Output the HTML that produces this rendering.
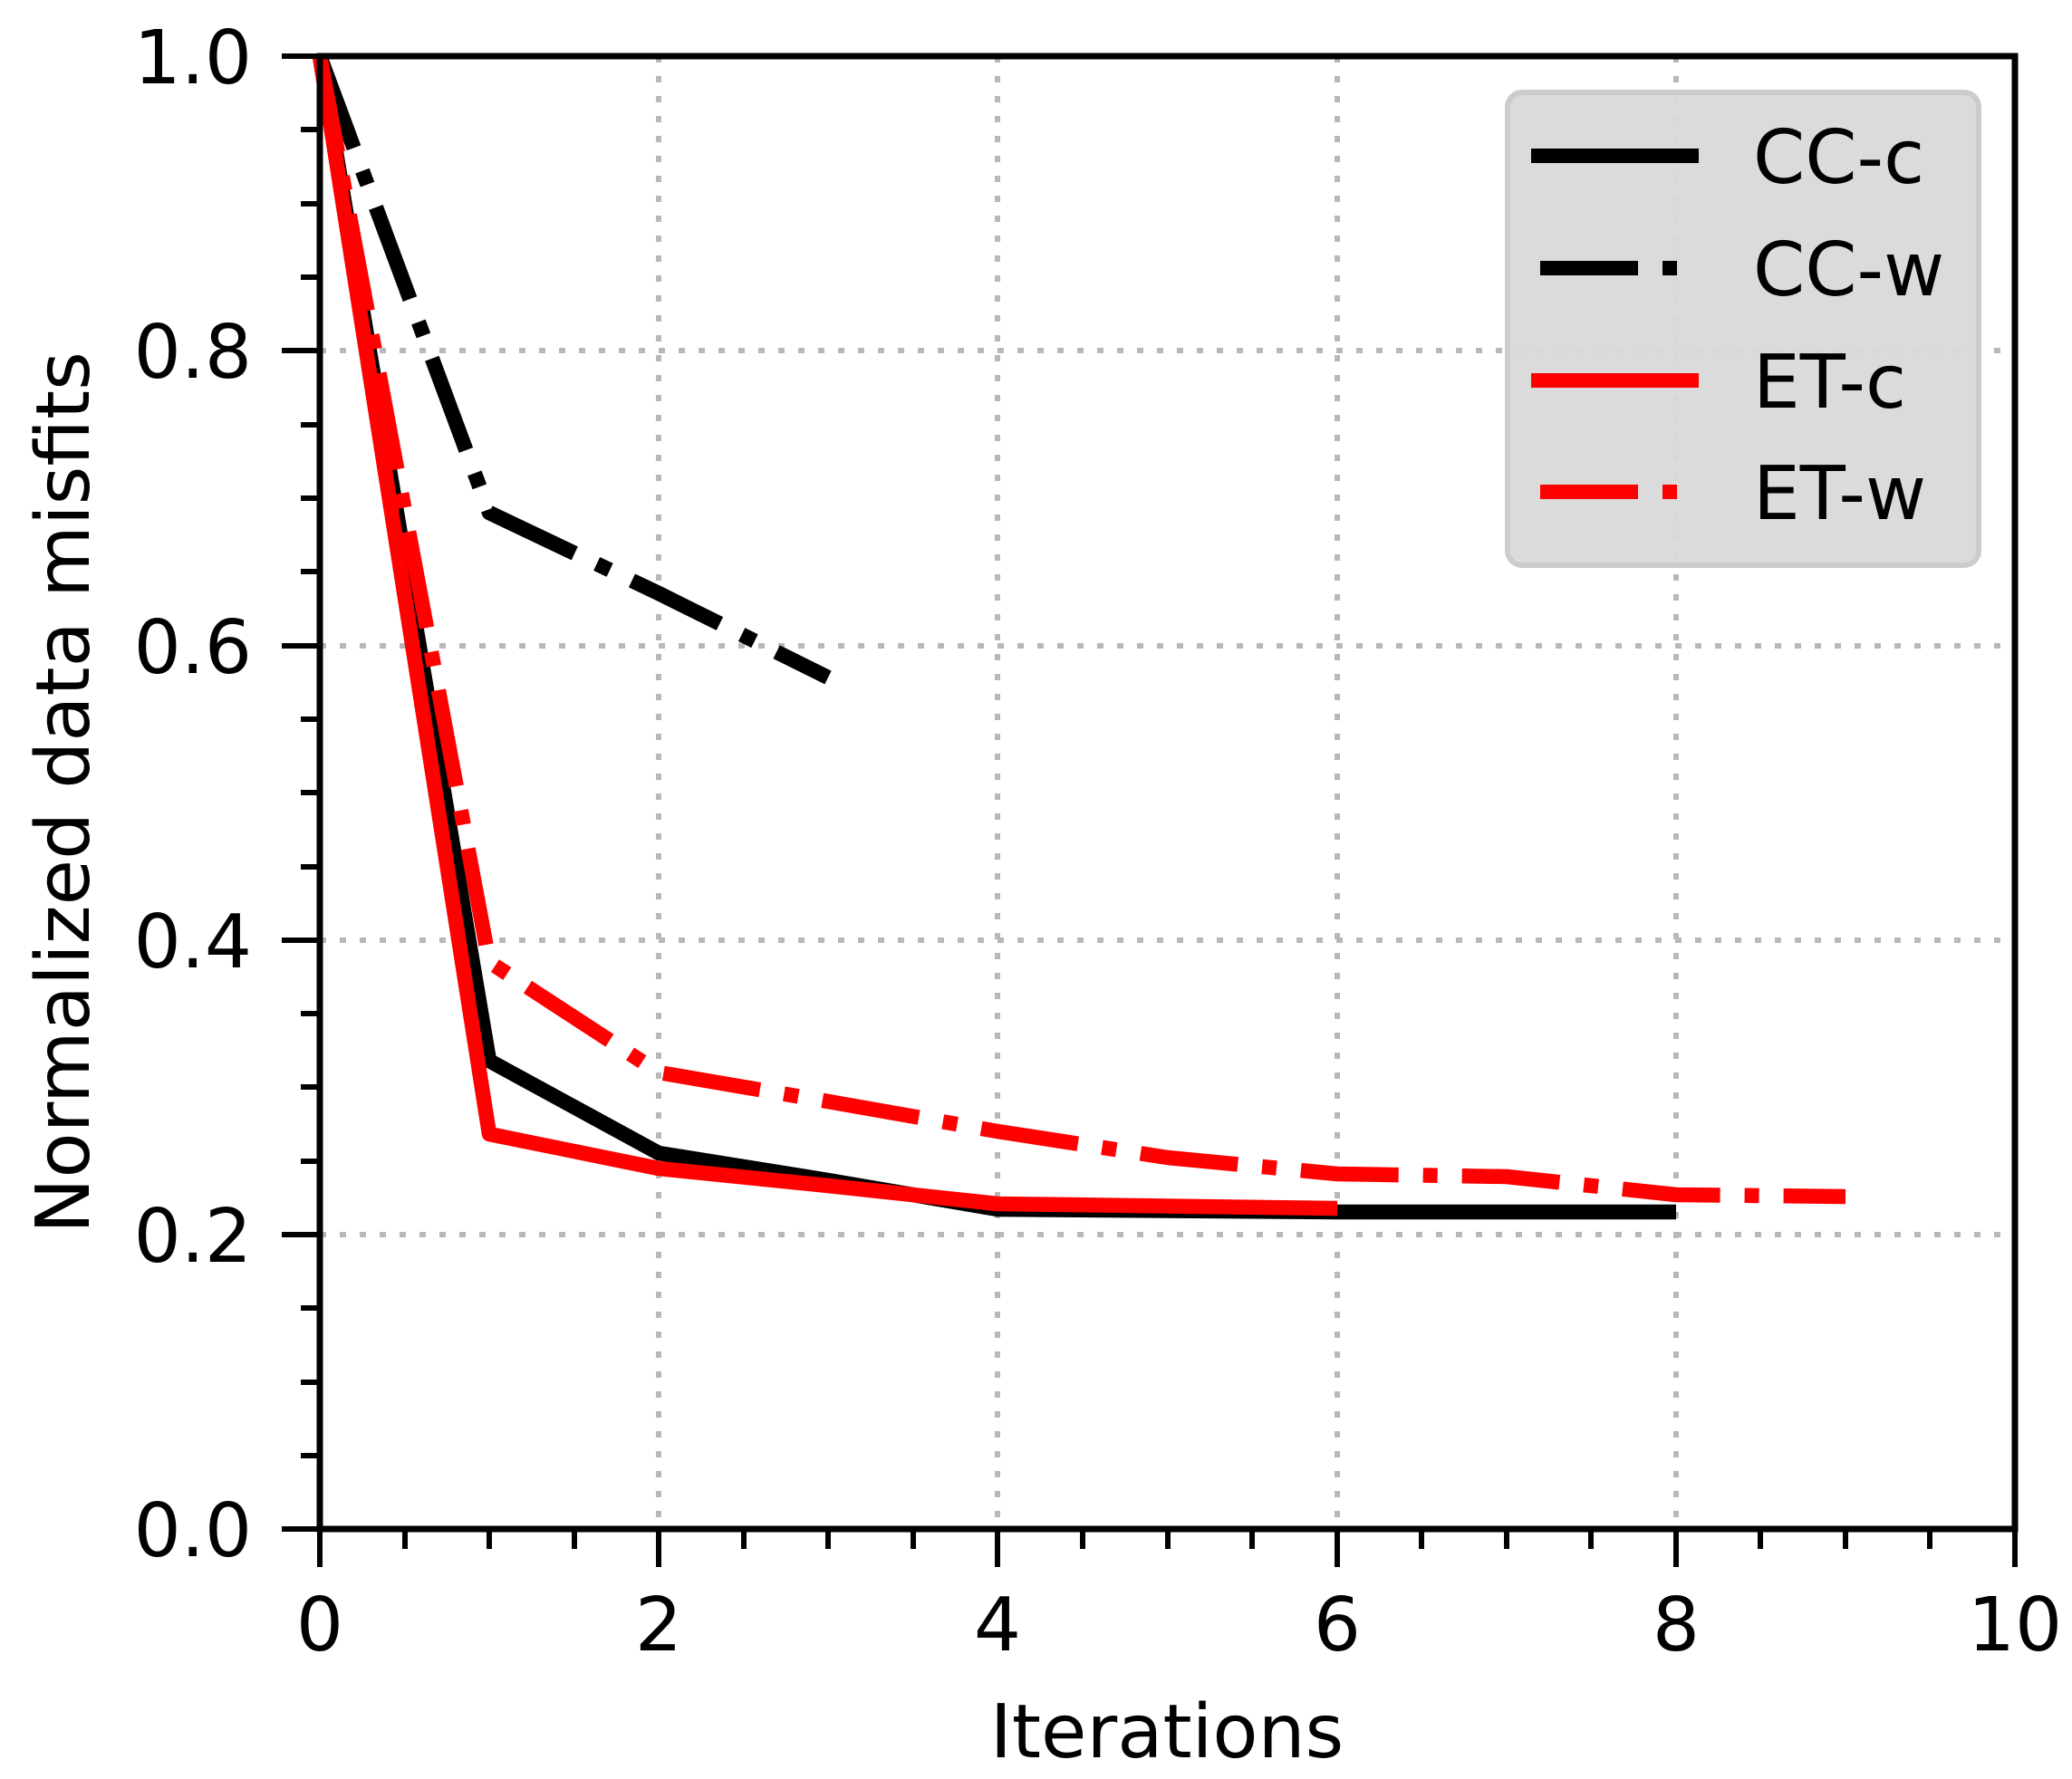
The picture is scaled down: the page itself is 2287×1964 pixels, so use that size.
<!DOCTYPE html>
<html><head><meta charset="utf-8"><style>html,body{margin:0;padding:0;background:#fff}svg{display:block}</style></head>
<body>
<svg width="2287" height="1964" viewBox="0 0 2287 1964" xmlns="http://www.w3.org/2000/svg" font-family="'DejaVu Sans','Liberation Sans',sans-serif">
<rect width="2287" height="1964" fill="#fff"/>
<g stroke="#b8b8b8" stroke-width="6" stroke-dasharray="7 15">
<line x1="353" y1="1363" x2="2224" y2="1363"/>
<line x1="353" y1="1038" x2="2224" y2="1038"/>
<line x1="353" y1="713" x2="2224" y2="713"/>
<line x1="353" y1="387" x2="2224" y2="387"/>
<line x1="727" y1="62" x2="727" y2="1688"/>
<line x1="1101" y1="62" x2="1101" y2="1688"/>
<line x1="1476" y1="62" x2="1476" y2="1688"/>
<line x1="1850" y1="62" x2="1850" y2="1688"/>
</g>
<g fill="none" stroke-width="16.5" stroke-linejoin="round">
<polyline stroke="#000" points="353,62 540,1171 727,1273 914,1303 1101,1335 1476,1338 1850,1338"/>
<polyline stroke="#000" stroke-dasharray="108 27 16 27" points="353,62 540,566 727,655 914,748"/>
<polyline stroke="#f00" points="353,62 540,1252 727,1290 914,1309 1101,1329 1476,1334"/>
<polyline stroke="#f00" stroke-dasharray="108 27 16 27" points="353,62 540,1062 727,1184 914,1216 1101,1249 1289,1278 1476,1296 1663,1299 1850,1319 2037,1321"/>
</g>
<g stroke="#000" stroke-width="6">
<line x1="311" y1="1688" x2="353" y2="1688"/><line x1="311" y1="1363" x2="353" y2="1363"/><line x1="311" y1="1038" x2="353" y2="1038"/><line x1="311" y1="713" x2="353" y2="713"/><line x1="311" y1="387" x2="353" y2="387"/><line x1="311" y1="62" x2="353" y2="62"/>
<line x1="332" y1="1607" x2="353" y2="1607"/><line x1="332" y1="1526" x2="353" y2="1526"/><line x1="332" y1="1444" x2="353" y2="1444"/><line x1="332" y1="1282" x2="353" y2="1282"/><line x1="332" y1="1200" x2="353" y2="1200"/><line x1="332" y1="1119" x2="353" y2="1119"/><line x1="332" y1="957" x2="353" y2="957"/><line x1="332" y1="875" x2="353" y2="875"/><line x1="332" y1="794" x2="353" y2="794"/><line x1="332" y1="631" x2="353" y2="631"/><line x1="332" y1="550" x2="353" y2="550"/><line x1="332" y1="469" x2="353" y2="469"/><line x1="332" y1="306" x2="353" y2="306"/><line x1="332" y1="225" x2="353" y2="225"/><line x1="332" y1="143" x2="353" y2="143"/>
<line x1="353" y1="1688" x2="353" y2="1730"/><line x1="727" y1="1688" x2="727" y2="1730"/><line x1="1101" y1="1688" x2="1101" y2="1730"/><line x1="1476" y1="1688" x2="1476" y2="1730"/><line x1="1850" y1="1688" x2="1850" y2="1730"/><line x1="2224" y1="1688" x2="2224" y2="1730"/>
<line x1="447" y1="1688" x2="447" y2="1710"/><line x1="540" y1="1688" x2="540" y2="1710"/><line x1="634" y1="1688" x2="634" y2="1710"/><line x1="821" y1="1688" x2="821" y2="1710"/><line x1="914" y1="1688" x2="914" y2="1710"/><line x1="1008" y1="1688" x2="1008" y2="1710"/><line x1="1195" y1="1688" x2="1195" y2="1710"/><line x1="1289" y1="1688" x2="1289" y2="1710"/><line x1="1382" y1="1688" x2="1382" y2="1710"/><line x1="1569" y1="1688" x2="1569" y2="1710"/><line x1="1663" y1="1688" x2="1663" y2="1710"/><line x1="1756" y1="1688" x2="1756" y2="1710"/><line x1="1943" y1="1688" x2="1943" y2="1710"/><line x1="2037" y1="1688" x2="2037" y2="1710"/><line x1="2130" y1="1688" x2="2130" y2="1710"/>
</g>
<rect x="353" y="62" width="1871" height="1626" fill="none" stroke="#000" stroke-width="7"/>
<rect x="1664" y="102" width="520" height="522" rx="16" fill="#d9d9d9" fill-opacity="0.95" stroke="#cccccc" stroke-width="6"/>
<line x1="1690" y1="172" x2="1875" y2="172" stroke="#000" stroke-width="16"/>
<line x1="1700" y1="296" x2="1875" y2="296" stroke="#000" stroke-width="16" stroke-dasharray="108 27 16 27"/>
<line x1="1690" y1="420" x2="1875" y2="420" stroke="#f00" stroke-width="16"/>
<line x1="1700" y1="543" x2="1875" y2="543" stroke="#f00" stroke-width="16" stroke-dasharray="108 27 16 27"/>
<g font-size="82" fill="#000">
<text x="1935" y="202">CC-c</text>
<text x="1935" y="326">CC-w</text>
<text x="1935" y="450">ET-c</text>
<text x="1935" y="573">ET-w</text>
</g>
<g font-size="82" fill="#000" text-anchor="end">
<text x="278" y="1718">0.0</text>
<text x="278" y="1393">0.2</text>
<text x="278" y="1068">0.4</text>
<text x="278" y="743">0.6</text>
<text x="278" y="417">0.8</text>
<text x="278" y="92">1.0</text>
</g>
<g font-size="82" fill="#000" text-anchor="middle">
<text x="353" y="1822">0</text>
<text x="727" y="1822">2</text>
<text x="1101" y="1822">4</text>
<text x="1476" y="1822">6</text>
<text x="1850" y="1822">8</text>
<text x="2224" y="1822">10</text>
<text x="1288" y="1940">Iterations</text>
<text transform="translate(98,875) rotate(-90)">Normalized data misfits</text>
</g>
</svg>
</body></html>
